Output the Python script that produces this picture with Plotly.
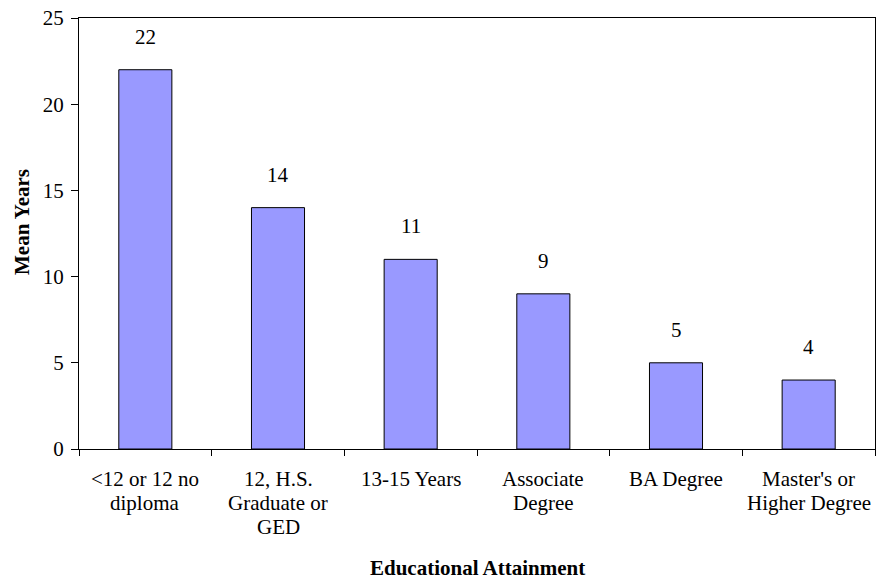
import plotly.graph_objects as go

# 教育程度与平均年数
categories = ["<12 or 12 no diploma", "12, H.S. Graduate or GED", "13-15 Years",
              "Associate Degree", "BA Degree", "Master's or Higher Degree"]
label_lines = [["<12 or 12 no", "diploma"], ["12, H.S.", "Graduate or", "GED"], ["13-15 Years"],
               ["Associate", "Degree"], ["BA Degree"], ["Master's or", "Higher Degree"]]
mean_years = [22, 14, 11, 9, 5, 4]
y_ticks = [0, 5, 10, 15, 20, 25]

font_family = "Liberation Serif, Times New Roman, serif"
fs = 21

fig = go.Figure(go.Bar(
    x=categories,
    y=mean_years,
    marker=dict(color="#9999FF", line=dict(color="black", width=1)),
))

annotations = []
# 柱顶数值
for cat, v in zip(categories, mean_years):
    annotations.append(dict(x=cat, y=v, xref="x", yref="y", text=str(v), showarrow=False,
                            yanchor="middle", yshift=33, font=dict(size=fs)))
# 类别标签（逐行放置，行距较紧）
for cat, lines in zip(categories, label_lines):
    for i, line in enumerate(lines):
        annotations.append(dict(x=cat, y=0, xref="x", yref="y", text=line, showarrow=False,
                                yanchor="middle", yshift=-30 - 24 * i, font=dict(size=fs)))
# 轴标题
annotations.append(dict(x=0.5, y=-119 / 431, xref="paper", yref="paper",
                        text="<b>Educational Attainment</b>", showarrow=False,
                        yanchor="middle", font=dict(size=fs)))
annotations.append(dict(x=(22 - 79) / 796, y=227 / 431, xref="paper", yref="paper",
                        text="<b>Mean Years</b>", showarrow=False, textangle=-90,
                        xanchor="center", yanchor="middle", font=dict(size=fs)))

fig.update_layout(
    width=876, height=580,
    margin=dict(l=79, r=1, t=18, b=131),
    plot_bgcolor="white", paper_bgcolor="white",
    bargap=0.6,
    showlegend=False,
    font=dict(family=font_family, size=fs, color="black"),
    annotations=annotations,
    xaxis=dict(
        tickson="boundaries", ticks="outside", ticklen=6, tickcolor="black",
        showticklabels=False, automargin=False,
        showline=True, linecolor="black", linewidth=1, mirror=True,
    ),
    yaxis=dict(
        range=[0, 25], tickvals=y_ticks, automargin=False,
        ticks="outside", ticklen=7, tickcolor="black", ticklabelstandoff=3,
        ticklabeloverflow="allow",
        showline=True, linecolor="black", linewidth=1, mirror=True,
        showgrid=False, zeroline=False,
        tickfont=dict(size=fs),
    ),
)

fig.write_html("out.html", config={"displayModeBar": False},
               post_script="document.body.style.margin='0';")
